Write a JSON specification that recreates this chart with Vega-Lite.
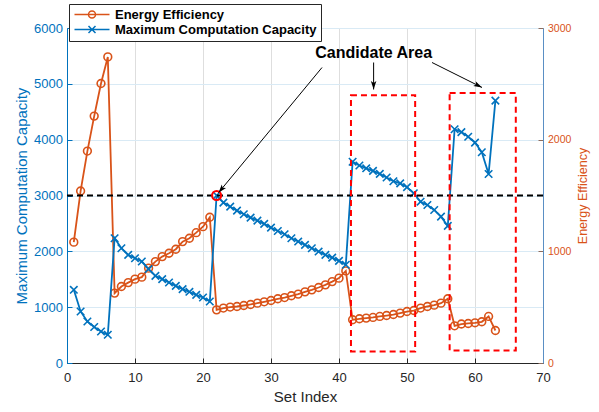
{
  "$schema": "https://vega.github.io/schema/vega-lite/v6.json",
  "width": 476,
  "height": 335,
  "autosize": {"type": "none"},
  "padding": {"left": 67, "top": 28, "right": 56, "bottom": 49},
  "background": "white",
  "config": {
    "font": "Liberation Sans",
    "view": {"stroke": "#262626", "strokeWidth": 1},
    "axis": {"labelFont": "Liberation Sans", "titleFont": "Liberation Sans", "titleFontWeight": "normal", "domainWidth": 1, "tickWidth": 1}
  },
  "datasets": {
    "d": [
      {"idx": 1, "mcc": 1311, "ee": 1082}, {"idx": 2, "mcc": 923, "ee": 1540}, {"idx": 3, "mcc": 744, "ee": 1898},
      {"idx": 4, "mcc": 644, "ee": 2211}, {"idx": 5, "mcc": 565, "ee": 2503}, {"idx": 6, "mcc": 506, "ee": 2741},
      {"idx": 7, "mcc": 2235, "ee": 626}, {"idx": 8, "mcc": 2056, "ee": 685}, {"idx": 9, "mcc": 1936, "ee": 720},
      {"idx": 10, "mcc": 1877, "ee": 751}, {"idx": 11, "mcc": 1817, "ee": 769}, {"idx": 12, "mcc": 1681, "ee": 849},
      {"idx": 13, "mcc": 1561, "ee": 908}, {"idx": 14, "mcc": 1502, "ee": 953}, {"idx": 15, "mcc": 1441, "ee": 983},
      {"idx": 16, "mcc": 1382, "ee": 1019}, {"idx": 17, "mcc": 1323, "ee": 1087}, {"idx": 18, "mcc": 1275, "ee": 1117},
      {"idx": 19, "mcc": 1221, "ee": 1167}, {"idx": 20, "mcc": 1173, "ee": 1221}, {"idx": 21, "mcc": 1101, "ee": 1305},
      {"idx": 22, "mcc": 3000, "ee": 476}, {"idx": 23, "mcc": 2872, "ee": 492}, {"idx": 24, "mcc": 2800, "ee": 501},
      {"idx": 25, "mcc": 2729, "ee": 506}, {"idx": 26, "mcc": 2664, "ee": 515}, {"idx": 27, "mcc": 2604, "ee": 524},
      {"idx": 28, "mcc": 2550, "ee": 536}, {"idx": 29, "mcc": 2491, "ee": 548}, {"idx": 30, "mcc": 2425, "ee": 560},
      {"idx": 31, "mcc": 2365, "ee": 575}, {"idx": 32, "mcc": 2306, "ee": 586}, {"idx": 33, "mcc": 2235, "ee": 602},
      {"idx": 34, "mcc": 2175, "ee": 617}, {"idx": 35, "mcc": 2115, "ee": 637}, {"idx": 36, "mcc": 2056, "ee": 655},
      {"idx": 37, "mcc": 1996, "ee": 676}, {"idx": 38, "mcc": 1936, "ee": 700}, {"idx": 39, "mcc": 1888, "ee": 729},
      {"idx": 40, "mcc": 1829, "ee": 760}, {"idx": 41, "mcc": 1760, "ee": 825}, {"idx": 42, "mcc": 3605, "ee": 387},
      {"idx": 43, "mcc": 3537, "ee": 396}, {"idx": 44, "mcc": 3487, "ee": 402}, {"idx": 45, "mcc": 3441, "ee": 408},
      {"idx": 46, "mcc": 3388, "ee": 417}, {"idx": 47, "mcc": 3322, "ee": 425}, {"idx": 48, "mcc": 3256, "ee": 434},
      {"idx": 49, "mcc": 3218, "ee": 447}, {"idx": 50, "mcc": 3149, "ee": 461}, {"idx": 51, "mcc": 3040, "ee": 470},
      {"idx": 52, "mcc": 2889, "ee": 492}, {"idx": 53, "mcc": 2830, "ee": 506}, {"idx": 54, "mcc": 2741, "ee": 518},
      {"idx": 55, "mcc": 2621, "ee": 536}, {"idx": 56, "mcc": 2455, "ee": 575}, {"idx": 57, "mcc": 4186, "ee": 333},
      {"idx": 58, "mcc": 4135, "ee": 349}, {"idx": 59, "mcc": 4052, "ee": 354}, {"idx": 60, "mcc": 3948, "ee": 360},
      {"idx": 61, "mcc": 3775, "ee": 369}, {"idx": 62, "mcc": 3385, "ee": 417}, {"idx": 63, "mcc": 4700, "ee": 291}
    ],
    "rects": [
      {"x1": 41.76, "x2": 51.2, "y1": 207, "y2": 4797},
      {"x1": 56.27, "x2": 66.0, "y1": 225, "y2": 4838}
    ],
    "arrows": [
      {"x1": 37.5, "y1": 5292, "x2": 22.28, "y2": 3050},
      {"x1": 45.09, "y1": 5382, "x2": 45.09, "y2": 4899},
      {"x1": 53.68, "y1": 5382, "x2": 61.03, "y2": 4935}
    ]
  },
  "layer": [
    {
      "data": {"name": "d"},
      "layer": [
        {
          "mark": {"type": "line", "color": "#D95319", "strokeWidth": 1.8},
          "encoding": {
            "x": {"field": "idx", "type": "quantitative", "scale": {"domain": [0, 70], "nice": false}},
            "y": {"field": "ee", "type": "quantitative", "scale": {"domain": [0, 3000], "nice": false},
              "axis": {"orient": "right", "values": [0, 1000, 2000, 3000], "format": "d", "title": "Energy Efficiency", "titleColor": "#D95319", "labelColor": "#D95319", "titleFontSize": 12.5, "labelFontSize": 10.5, "domainColor": "#5a8fc4", "tickColor": "#8c6d5f", "tickSize": -5, "labelPadding": 9.5, "titlePadding": 6, "titleAngle": 270, "titleBaseline": "top", "grid": false}}
          }
        },
        {
          "mark": {"type": "point", "filled": false, "shape": "circle", "size": 60, "strokeWidth": 1.6, "opacity": 1, "color": "#D95319"},
          "encoding": {
            "x": {"field": "idx", "type": "quantitative", "scale": {"domain": [0, 70], "nice": false}},
            "y": {"field": "ee", "type": "quantitative", "scale": {"domain": [0, 3000], "nice": false}}
          }
        }
      ]
    },
    {
      "layer": [
        {
          "data": {"name": "d"},
          "mark": {"type": "line", "color": "#0072BD", "strokeWidth": 1.8},
          "encoding": {
            "x": {"field": "idx", "type": "quantitative", "scale": {"domain": [0, 70], "nice": false},
              "axis": {"values": [0, 10, 20, 30, 40, 50, 60, 70], "format": "d", "title": "Set Index", "titleFontSize": 15, "titleColor": "#262626", "labelFontSize": 13, "labelColor": "#262626", "domainColor": "#262626", "tickColor": "#262626", "tickSize": -5, "labelPadding": 13, "titlePadding": 5, "grid": true, "gridColor": "#dedede", "labelFlush": false}},
            "y": {"field": "mcc", "type": "quantitative", "scale": {"domain": [0, 6000], "nice": false},
              "axis": {"orient": "left", "values": [0, 1000, 2000, 3000, 4000, 5000, 6000], "format": "d", "title": "Maximum Computation Capacity", "titleColor": "#0072BD", "labelColor": "#0072BD", "titleFontSize": 15, "labelFontSize": 13, "domainColor": "#0072BD", "tickColor": "#0072BD", "tickSize": -5, "labelPadding": 9.5, "titlePadding": 4, "grid": true, "gridColor": "#d9eaf5"}}
          }
        },
        {
          "data": {"name": "d"},
          "mark": {"type": "point", "filled": false, "shape": "M-1,-1L1,1M-1,1L1,-1", "size": 56, "strokeWidth": 1.6, "opacity": 1, "color": "#0072BD"},
          "encoding": {
            "x": {"field": "idx", "type": "quantitative", "scale": {"domain": [0, 70], "nice": false}},
            "y": {"field": "mcc", "type": "quantitative", "scale": {"domain": [0, 6000], "nice": false}}
          }
        },
        {
          "data": {"values": [{"level": 3000}]},
          "mark": {"type": "rule", "color": "#000000", "strokeWidth": 2, "strokeDash": [6, 4]},
          "encoding": {
            "y": {"field": "level", "type": "quantitative", "scale": {"domain": [0, 6000], "nice": false}}
          }
        },
        {
          "data": {"name": "rects"},
          "mark": {"type": "rect", "fill": "transparent", "stroke": "#ff0000", "strokeWidth": 2, "strokeDash": [6, 4]},
          "encoding": {
            "x": {"field": "x1", "type": "quantitative", "scale": {"domain": [0, 70], "nice": false}},
            "x2": {"field": "x2"},
            "y": {"field": "y1", "type": "quantitative", "scale": {"domain": [0, 6000], "nice": false}},
            "y2": {"field": "y2"}
          }
        },
        {
          "data": {"values": [{"idx": 22, "mcc": 3000}]},
          "mark": {"type": "point", "filled": false, "shape": "circle", "size": 81, "strokeWidth": 2, "color": "#ff0000", "opacity": 1},
          "encoding": {
            "x": {"field": "idx", "type": "quantitative", "scale": {"domain": [0, 70], "nice": false}},
            "y": {"field": "mcc", "type": "quantitative", "scale": {"domain": [0, 6000], "nice": false}}
          }
        },
        {
          "data": {"name": "arrows"},
          "mark": {"type": "rule", "color": "#000000", "strokeWidth": 1},
          "encoding": {
            "x": {"field": "x1", "type": "quantitative", "scale": {"domain": [0, 70], "nice": false}},
            "x2": {"field": "x2"},
            "y": {"field": "y1", "type": "quantitative", "scale": {"domain": [0, 6000], "nice": false}},
            "y2": {"field": "y2"}
          }
        },
        {
          "data": {"values": [{"x": 22.28, "y": 3050}]},
          "mark": {"type": "point", "filled": true, "shape": "M0,0L-0.55,1.7L0,1.3L0.55,1.7Z", "size": 100, "angle": 219.5, "color": "#000000", "opacity": 1},
          "encoding": {
            "x": {"field": "x", "type": "quantitative", "scale": {"domain": [0, 70], "nice": false}},
            "y": {"field": "y", "type": "quantitative", "scale": {"domain": [0, 6000], "nice": false}}
          }
        },
        {
          "data": {"values": [{"x": 45.09, "y": 4899}]},
          "mark": {"type": "point", "filled": true, "shape": "M0,0L-0.55,1.7L0,1.3L0.55,1.7Z", "size": 100, "angle": 180, "color": "#000000", "opacity": 1},
          "encoding": {
            "x": {"field": "x", "type": "quantitative", "scale": {"domain": [0, 70], "nice": false}},
            "y": {"field": "y", "type": "quantitative", "scale": {"domain": [0, 6000], "nice": false}}
          }
        },
        {
          "data": {"values": [{"x": 61.03, "y": 4935}]},
          "mark": {"type": "point", "filled": true, "shape": "M0,0L-0.55,1.7L0,1.3L0.55,1.7Z", "size": 100, "angle": 116.6, "color": "#000000", "opacity": 1},
          "encoding": {
            "x": {"field": "x", "type": "quantitative", "scale": {"domain": [0, 70], "nice": false}},
            "y": {"field": "y", "type": "quantitative", "scale": {"domain": [0, 6000], "nice": false}}
          }
        },
        {
          "data": {"values": [{"x": 45.1, "y": 5553, "label": "Candidate Area"}]},
          "mark": {"type": "text", "font": "Liberation Sans", "fontWeight": "bold", "fontSize": 16, "color": "#000000", "align": "center", "baseline": "middle"},
          "encoding": {
            "x": {"field": "x", "type": "quantitative", "scale": {"domain": [0, 70], "nice": false}},
            "y": {"field": "y", "type": "quantitative", "scale": {"domain": [0, 6000], "nice": false}},
            "text": {"field": "label"}
          }
        },
        {
          "data": {"values": [{"series": "Energy Efficiency", "x": 22, "y": 3000}, {"series": "Maximum Computation Capacity", "x": 22, "y": 3000}]},
          "mark": {"type": "point", "filled": false, "size": 100, "strokeWidth": 1.5, "opacity": 0},
          "encoding": {
            "x": {"field": "x", "type": "quantitative", "scale": {"domain": [0, 70], "nice": false}},
            "y": {"field": "y", "type": "quantitative", "scale": {"domain": [0, 6000], "nice": false}},
            "color": {"field": "series", "type": "nominal", "scale": {"domain": ["Energy Efficiency", "Maximum Computation Capacity"], "range": ["#D95319", "#0072BD"]},
              "legend": {"title": null, "orient": "none", "legendX": 2, "legendY": -24, "strokeColor": "#262626", "fillColor": "white", "padding": 4, "labelFont": "Liberation Sans", "labelFontWeight": "bold", "labelFontSize": 13, "labelColor": "#000000", "labelLimit": 0, "symbolSize": 100, "symbolStrokeWidth": 1.5, "symbolOpacity": 1, "labelOffset": 29, "rowPadding": 1}},
            "shape": {"field": "series", "type": "nominal", "scale": {"domain": ["Energy Efficiency", "Maximum Computation Capacity"], "range": ["M-1,0L6,0M1.8,0A0.7,0.7 0 1,1 3.2,0A0.7,0.7 0 1,1 1.8,0", "M-1,0L6,0M1.8,-0.7L3.2,0.7M1.8,0.7L3.2,-0.7"]},
              "legend": {"title": null, "orient": "none", "legendX": 2, "legendY": -24, "strokeColor": "#262626", "fillColor": "white", "padding": 4, "labelFont": "Liberation Sans", "labelFontWeight": "bold", "labelFontSize": 13, "labelColor": "#000000", "labelLimit": 0, "symbolSize": 100, "symbolStrokeWidth": 1.5, "symbolOpacity": 1, "labelOffset": 29, "rowPadding": 1}}
          }
        }
      ]
    }
  ],
  "resolve": {"scale": {"y": "independent"}}
}
